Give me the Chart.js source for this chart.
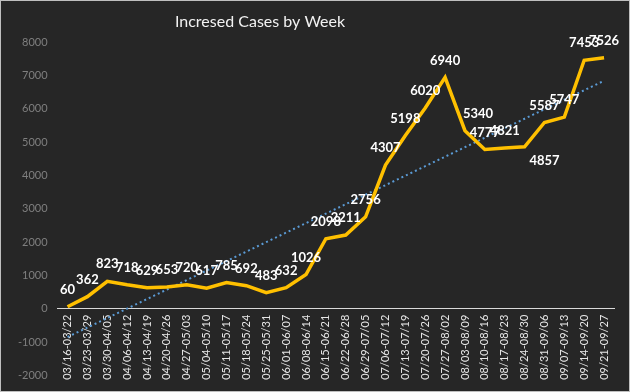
<!DOCTYPE html>
<html>
<head>
<meta charset="utf-8">
<script src="https://cdn.jsdelivr.net/npm/chart.js@4/dist/chart.umd.min.js"></script>
<style>
  html, body { margin: 0; padding: 0; background: #262626; }
  .container { position: relative; width: 630px; height: 392px; }
</style>
</head>
<body>
<div class="container"><canvas id="myChart" width="630" height="392"></canvas></div>
<script>
// weeks (x categories)
const weeks = [
  "03/16-03/22", "03/23-03/29", "03/30-04/05", "04/06-04/12", "04/13-04/19",
  "04/20-04/26", "04/27-05/03", "05/04-05/10", "05/11-05/17", "05/18-05/24",
  "05/25-05/31", "06/01-06/07", "06/08-06/14", "06/15-06/21", "06/22-06/28",
  "06/29-07/05", "07/06-07/12", "07/13-07/19", "07/20-07/26", "07/27-08/02",
  "08/03-08/09", "08/10-08/16", "08/17-08/23", "08/24-08/30", "08/31-09/06",
  "09/07-09/13", "09/14-09/20", "09/21-09/27"
];

// increased cases per week
const cases = [
  60, 362, 823, 718, 629, 653, 720, 617, 785, 692, 483, 632, 1026, 2098,
  2211, 2756, 4307, 5198, 6020, 6940, 5340, 4777, 4821, 4857, 5587, 5747,
  7453, 7526
];

const yTicks = { min: -2000, max: 8000, step: 1000 };

// linear trendline (least squares over the weekly values)
function linearTrend(values) {
  const n = values.length;
  const xMean = (n - 1) / 2;
  const yMean = values.reduce((a, b) => a + b, 0) / n;
  let sxy = 0, sxx = 0;
  values.forEach((v, i) => {
    sxy += (i - xMean) * (v - yMean);
    sxx += (i - xMean) * (i - xMean);
  });
  const slope = sxy / sxx;
  return values.map((_, i) => yMean + slope * (i - xMean));
}

const FONT = "Lato, 'Open Sans', sans-serif";

// background, frame, title and value labels
const decor = {
  id: "decor",
  beforeDraw(chart) {
    const { ctx, width, height } = chart;
    ctx.save();
    ctx.fillStyle = "#262626";
    ctx.fillRect(0, 0, width, height);
    ctx.restore();
  },
  afterDatasetsDraw(chart) {
    const { ctx, width, height } = chart;
    const meta = chart.getDatasetMeta(0);
    // label placement tweaks (as in the source picture)
    const shift = { 20: [13, 0], 23: [20, 31] };
    ctx.save();
    ctx.font = "bold 13px " + FONT;
    ctx.fillStyle = "#ffffff";
    ctx.textAlign = "center";
    ctx.textBaseline = "middle";
    meta.data.forEach((pt, i) => {
      const [dx, dy] = shift[i] || [0, 0];
      ctx.fillText(String(cases[i]), pt.x + dx, pt.y - 17 + dy);
    });
    // title
    ctx.font = "16px " + FONT;
    ctx.fillStyle = "#f2f2f2";
    ctx.fillText("Incresed Cases by Week", 260, 22);
    // frame
    ctx.strokeStyle = "#bfbfbf";
    ctx.lineWidth = 1;
    ctx.strokeRect(0.5, 0.5, width - 1, height - 1);
    ctx.restore();
  }
};

new Chart(document.getElementById("myChart"), {
  type: "line",
  data: {
    labels: weeks,
    datasets: [
      {
        label: "Cases",
        data: cases,
        borderColor: "#ffc000",
        borderWidth: 3.5,
        pointRadius: 0,
        tension: 0,
        order: 1
      },
      {
        label: "Trend",
        data: linearTrend(cases),
        borderColor: "#5b9bd5",
        borderWidth: 2,
        borderDash: [2, 3],
        pointRadius: 0,
        tension: 0,
        order: 2
      }
    ]
  },
  plugins: [decor],
  options: {
    responsive: false,
    animation: false,
    layout: { padding: { top: 42, left: 8, right: 16, bottom: 10 } },
    plugins: {
      legend: { display: false },
      tooltip: { enabled: false }
    },
    scales: {
      x: {
        position: { y: 0 },
        offset: true,
        grid: { display: false, drawTicks: false },
        border: { display: true, color: "#d9d9d9", width: 1 },
        ticks: {
          autoSkip: false,
          minRotation: 90,
          maxRotation: 90,
          padding: 6,
          color: "#e6e6e6",
          font: { family: FONT, size: 11 }
        }
      },
      y: {
        min: yTicks.min,
        max: yTicks.max,
        grid: { display: false, drawTicks: false },
        border: { display: false },
        ticks: {
          stepSize: yTicks.step,
          padding: 10,
          color: "#7f7f7f",
          font: { family: FONT, size: 11 },
          callback: (v) => String(v)
        }
      }
    }
  }
});
</script>
</body>
</html>
